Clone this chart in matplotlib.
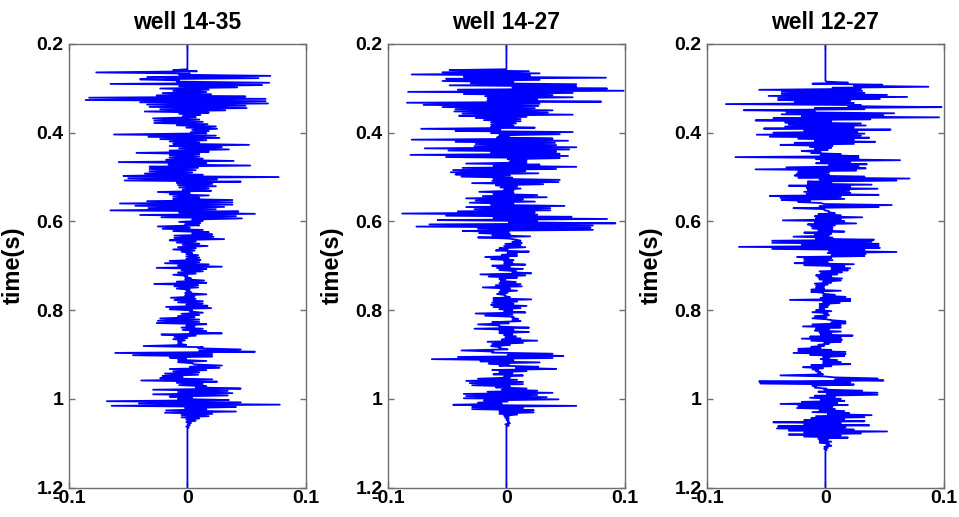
import numpy as np
import matplotlib
matplotlib.use("Agg")
import matplotlib.pyplot as plt

plt.rcParams['font.family'] = ['Liberation Sans', 'DejaVu Sans']
plt.rcParams['font.weight'] = 'bold'

# reflectivity traces, read level by level from the picture (units of 1e-3)
# each level: leftmost and rightmost excursion of the trace
titles = ["well 14-35", "well 14-27", "well 12-27"]
t_active = [(0.259, 1.065), (0.259, 1.060), (0.285, 1.115)]

w1_lo = [-12, -77, -7, -34, -40, -9, -65, -7, -23, -12, -21, -26, -83, -86, -40, -34, -32, -23, -36, -7,
         -4, -29, -28, -28, -9, -1, 4, 3, -62, -33, -23, -15, -12, -15, -7, -15, -43, -15, -15, -18,
         -58, -16, -32, -32, -32, -36,
         -54, -50, -53, -9, -8, -7, -4, -25, -15, -12, -12, -34, -57, -44, -33, -65, -7, -40, -22, 4,
         -7, -2, -25, -21, -12, 4, -11, -11, -15, -9, -4, -8, -12, -5, -1, -1, -1, -15, -19, -8,
         -26, -5, -8, -12, -2, -2, -9, -28,
         -11, -9, -1, -2, -2, -14, -11, -8, -1, -18, -15, 2, -5, -8, -23, -25, -26, -1, -5, -4,
         2, -22, -11, -12, -8, -8, -37, 9, 10, -61, -46, -15, -8, -8, 6, 2, -15, -12, -19, -21,
         -23, -39, -9, -7, 7, -29, -8,
         -29, -15, -8, -68, -41, -64, -2, -18, -19, -5, -5, -1, -1, 0, -1]
w1_hi = [8, 2, 70, 60, -7, 69, 63, 42, 18, 16, 20, 49, 66, 66, 68, 49, 50, 32, 18, 11,
         7, 10, 13, 17, 24, 25, 18, 16, 24, 27, 16, 10, 52, 29, 35, 18, 10, 10, 13, 39,
         16, 53, 9, 7, 4, 13,
         77, 25, 45, 21, 24, 18, 20, 2, 18, 10, 38, 38, 38, 31, 24, 43, 57, 41, 46, 13,
         11, 10, 2, 13, 18, 21, 22, 31, 7, 10, 17, 7, 6, 4, 9, 10, 11, 10, 18, 29,
         16, 13, 7, 0, 3, 14, 16, 9,
         9, 2, 3, 16, 6, 7, 13, 13, 17, 20, 4, 13, 10, 6, 10, 10, 16, 6, 13, 16,
         29, 7, 0, -2, -5, -1, 13, 45, 57, 21, 21, -1, 16, 4, 29, 27, 16, 10, 9, -4,
         21, 25, 13, 16, 45, 34, 38,
         34, 4, 35, 45, 78, 41, 16, 41, 21, 18, 10, 7, 3, 2, 1]

w2_lo = [-48, -54, -80, -36, -51, -54, -30, -48, 5, -41, -83, -36, -18, -16, -16, -84, -70, -54, -43, -44,
         -37, -40, -26, -19, -13, -13, -13, -72, -43, -13, -6, -8, -80, -43, -26, -27, -69, -49, -13, -81,
         -51, 1, 3, -34, -11, -37, -45, -47, -43, -38,
         -11, -12, -29, -9, -5, -2, -23, -11, -20, -34, -26, -31, -13, -34, -27, -41, -88, -51, -11, -58,
         2, -65, -76, -24, -37, -23, -12, -24, 8, 5, -1, -2, -6, -9, 1, -4, -18, -13, -2, -2,
         -12, -8, -6, 5, -22, -15, -6, -5, -6, -9,
         -20, -5, -6, -8, -1, -11, -11, -12, -13, -11, -6, -2, -26, -18, 5, 5, -12, -24, -6, -27,
         -6, -6, -2, -1, -4, -16, -12, -13, -6, -38, -12, 1, -41, -63, -22, -15, -6, 8, -12, -6,
         -11, -2, -24, -34, -31, -29, -9, -4, -16,
         -36, -34, -36, -19, -24, -45, -29, -29, -6, -6, -2, -1, 0, 1, -1]
w2_hi = [19, 28, 20, 84, 28, 6, 59, 59, 85, 99, 56, 39, 56, 26, 80, 28, 27, 24, 39, 35,
         56, 17, 12, 12, 8, 6, 24, -5, 56, 45, 2, 39, 52, 41, 42, 59, 53, 42, 45, 52,
         45, 17, 17, 28, 59, 42, 16, 27, 3, 5,
         45, 44, 31, 9, 12, 6, 6, 26, 34, 14, 24, 6, 49, 37, 37, 24, 26, 55, 85, 26,
         92, 73, 71, 73, 2, 3, 20, 2, 12, 13, 12, 16, 1, 19, 9, 9, 2, 6, 5, 16,
         3, 14, 8, 21, 16, 9, -1, 8, 12, 13,
         3, 9, 1, -1, 3, 21, 9, 6, 17, 12, 5, 16, 5, 6, 10, 12, 2, -6, 19, 6,
         19, 5, 8, 12, 26, 14, 3, -5, 1, -11, 39, 48, 39, 6, 28, 2, 27, 42, 17, 5,
         14, 3, 9, 14, 14, 3, 17, 26, 39,
         26, 34, 44, 1, -4, 59, 14, 23, 23, 9, 2, 2, 2, 3, 2]

w3_lo = [1, -11, 24, 6, -56, -37, -37, -48, -40, -40, -26, -84, 19, -9, -69, -33, -37, -20, -44, -59,
         -34, -31, -34, -52, -18, -44, -58, -47, -23, -9, -26, -38, -13, -9, -20, -12, -4, -76, -8, -4,
         -8, 3, -33, -59, -23, -24, -26,
         -23, -5, -15, -15, -31, -16, -15, -18, -16, -47, -38, -37, -23, -1, -5, -27, -1, 3, -6, -9,
         -8, -36, -9, -15, -12, -11, -6, -18, -9, -27, -8, -45, -45, -20, -73, -45, 3, 2, 5, -24,
         -18, -18, -26, -18, 5, 5, -5, -4, -8, -6, -5, -2, -9, -8, -8,
         -12, -12, -2, -2, -4, -30, -2, -5, -5, -5, -8, -11, -1, -9, -11, 6, 5, -11, -19, -8,
         -9, -5, -4, -13, -20, -12, -1, -6, -12, -23, -23, -27, -13, -2, -4, -2, -2, -12, -19, -11,
         -8, -6, -38, 8, 8, -56, -55, -11, -9, -1, -6,
         1, -9, -13, -4, -20, -38, -23, -24, -5, -11, 2, -8, -12, -18, -44, -18, -40, -41, -31, -18,
         -31, -18, -6, -5, -5, 1, -1, -1]
w3_hi = [19, 48, 87, 30, 31, 33, 52, 69, 46, 21, 24, 30, 98, 33, -9, 58, 49, 96, 38, 5,
         30, 34, 24, 55, 27, 33, 30, 37, 24, 42, 24, 6, 5, 2, -4, 13, 28, 28, 63, 21,
         35, 28, 34, 26, 3, 3, 33,
         71, 60, 5, 39, 21, 44, 20, 21, 45, 13, 16, -13, -4, 56, 45, -1, 3, 8, 13, 31,
         13, 16, 26, 8, 6, 6, 16, 5, 3, 6, 41, 39, 45, 45, 46, 33, 60, 34, 33, 5,
         6, 2, 24, 16, 21, 19, 14, 10, 5, 14, 13, 5, 2, -1, -1,
         13, -2, 8, 17, 21, 21, 12, 3, 2, -1, 5, 2, 3, 1, 1, 17, 17, 13, 13, 3,
         13, 5, 23, 13, 14, 13, 3, -1, -4, 5, 17, 17, 16, 3, 10, 13, 21, 5, -2, -6,
         -4, -2, -1, 44, 49, 21, 24, -8, 1, 31, 44,
         44, 8, 13, 16, 10, 19, 6, 8, 16, 20, 39, 33, 16, 33, 13, 37, 17, 24, 52, 30,
         13, 19, 2, 5, 3, 5, 2, 1]

lows = [w1_lo, w2_lo, w3_lo]
highs = [w1_hi, w2_hi, w3_hi]

yticks = [0.2, 0.4, 0.6, 0.8, 1.0, 1.2]
ytick_labels = ["0.2", "0.4", "0.6", "0.8", "1", "1.2"]
xticks = [-0.1, 0, 0.1]
xtick_labels = ["-0.1", "0", "0.1"]


def trace(lo, hi, t0, t1):
    # alternate left/right excursions, then pad with the flat zero stem
    r = np.empty(2 * len(lo))
    r[0::2] = np.array(lo) / 1000.0
    r[1::2] = np.array(hi) / 1000.0
    t = np.linspace(t0, t1, len(r))
    r = np.concatenate([[0, 0], r, [0, 0]])
    t = np.concatenate([[0.2, t0 - 0.002], t, [t1 + 0.002, 1.2]])
    return r, t


fig = plt.figure(figsize=(9.59, 5.17), dpi=100)
lefts = [69 / 959, 388 / 959, 707 / 959]
gray = '#6e6e6e'

for i in range(3):
    ax = fig.add_axes([lefts[i], 0.057, 0.247, 0.858])
    r, t = trace(lows[i], highs[i], *t_active[i])
    ax.plot(r, t, color='b', lw=1.3)
    ax.set_xlim(-0.1, 0.1)
    ax.set_ylim(1.2, 0.2)
    ax.set_yticks(yticks)
    ax.set_yticklabels(ytick_labels)
    ax.set_xticks(xticks)
    ax.set_xticklabels(xtick_labels)
    ax.tick_params(direction='in', length=4, width=1, color=gray,
                   labelsize=14, right=True, top=True, pad=4)
    ax.tick_params(axis='x', pad=2)
    for s in ax.spines.values():
        s.set_color(gray)
        s.set_linewidth(1)
    ax.set_title(titles[i], fontsize=16.5, fontweight='bold', pad=11)
    ax.set_ylabel("time(s)", fontsize=17, fontweight='bold')
    ax.yaxis.set_label_coords(-0.185, 0.5)

plt.savefig("out.png", dpi=100)
